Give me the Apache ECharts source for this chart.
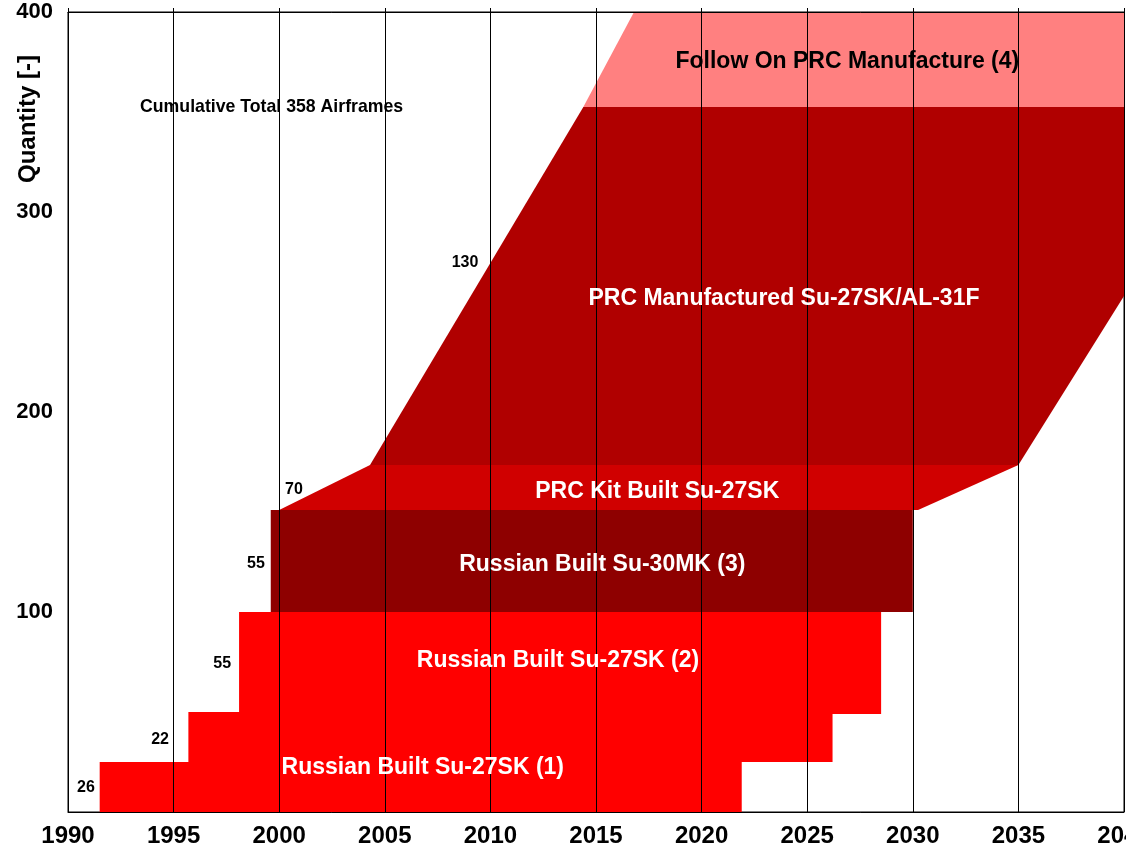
<!DOCTYPE html>
<html>
<head>
<meta charset="utf-8">
<script src="https://cdn.jsdelivr.net/npm/echarts@6/dist/echarts.min.js"></script>
<style>html,body{margin:0;padding:0;background:#fff}#c{width:1126px;height:847px}</style>
</head>
<body>
<div id="c"></div>
<script>
// Year ticks
const yearTicks = [1990, 1995, 2000, 2005, 2010, 2015, 2020, 2025, 2030, 2035, 2040];
const qtyTicks = [0, 100, 200, 300, 400];

// Region outlines as [year, cumulative quantity]
const russianSu27SK = [[1991.5,0],[1991.5,25],[1995.7,25],[1995.7,50],[1998.1,50],[1998.1,100],
  [2028.5,100],[2028.5,49],[2026.2,49],[2026.2,25],[2021.9,25],[2021.9,0]];
const russianSu30MK = [[1999.6,100],[1999.6,151],[2030,151],[2030,100]];
const prcKitSu27SK = [[2000,151],[2004.3,173.5],[2035,173.5],[2030.25,151]];
const prcManufactured = [[2004.3,173.5],[2014.4,352.5],[2040,352.5],[2040,258],[2035,173.5]];
const followOnPRC = [[2014.4,352.5],[2016.8,400],[2040,400],[2040,352.5]];

// Annotation texts and their anchor points (year, quantity)
const labelTexts = ['Follow On PRC Manufacture (4)','Cumulative Total 358 Airframes','130',
  'PRC Manufactured Su-27SK/AL-31F','70','PRC Kit Built Su-27SK','55','Russian Built Su-30MK (3)',
  '55','Russian Built Su-27SK (2)','22','Russian Built Su-27SK (1)','26'];
const labelYears = [2026.9, 1999.64, 2008.8, 2023.9, 2000.7, 2017.9, 1998.9, 2015.3, 1997.3, 2013.2, 1994.36, 2006.8, 1990.85];
const labelQty   = [375, 352.5, 274.5, 256.5, 161, 160, 124, 123.5, 74, 75.5, 36, 22, 12];

const FONT = '"Liberation Sans", Arial, Helvetica, sans-serif';
const regions = [
  {data: russianSu27SK, color: '#ff0000'},
  {data: russianSu30MK, color: '#8e0000'},
  {data: prcKitSu27SK, color: '#d00000'},
  {data: prcManufactured, color: '#b00000'},
  {data: followOnPRC, color: '#ff8080'}
];
// style per label
const labelStyle = [
  {c:'#000', s:23}, {c:'#000', s:17.7}, {c:'#000', s:16},
  {c:'#fff', s:23}, {c:'#000', s:16}, {c:'#fff', s:23}, {c:'#000', s:16}, {c:'#fff', s:23},
  {c:'#000', s:16}, {c:'#fff', s:23}, {c:'#000', s:16}, {c:'#fff', s:23}, {c:'#000', s:16}
];

const chart = echarts.init(document.getElementById('c'), null, {renderer: 'canvas'});

const series = regions.map(r => ({
  type: 'custom',
  clip: true,
  z: 2,
  data: [[r.data[0][0], r.data[0][1]]],
  renderItem: function (params, api) {
    return {
      type: 'polygon',
      shape: {points: r.data.map(p => api.coord(p))},
      style: {fill: r.color, stroke: null}
    };
  },
  silent: true
}));

series.push({
  type: 'custom',
  z: 5,
  data: labelTexts.map((t, i) => [labelYears[i], labelQty[i], i]),
  renderItem: function (params, api) {
    const i = params.dataIndex;
    const pt = api.coord([labelYears[i], labelQty[i]]);
    return {
      type: 'text',
      x: pt[0], y: pt[1],
      style: {
        text: labelTexts[i],
        fill: labelStyle[i].c,
        font: 'bold ' + labelStyle[i].s + 'px ' + FONT,
        align: 'center',
        verticalAlign: 'middle'
      }
    };
  },
  silent: true
});

chart.setOption({
  animation: false,
  backgroundColor: '#fff',
  grid: {left: 68, right: 2, top: 12, bottom: 35, containLabel: false, outerBoundsMode: 'none',
    show: true, borderColor: '#000', borderWidth: 1, backgroundColor: 'transparent'},
  xAxis: [{
    type: 'value',
    min: yearTicks[0], max: yearTicks[yearTicks.length - 1], interval: 5,
    z: 4,
    axisLine: {show: true, lineStyle: {color: '#000', width: 1}},
    axisTick: {show: false},
    splitLine: {show: true, lineStyle: {color: '#000', width: 1}},
    axisLabel: {color: '#000', fontFamily: FONT, fontWeight: 'bold', fontSize: 24, margin: 12,
      formatter: v => String(v)}
  }, {
    type: 'value', position: 'top',
    min: yearTicks[0], max: yearTicks[yearTicks.length - 1], interval: 5,
    z: 4,
    axisLine: {show: true, lineStyle: {color: '#000'}},
    axisTick: {show: true, inside: false, length: 4, lineStyle: {color: '#000'}},
    splitLine: {show: false},
    axisLabel: {show: false}
  }],
  yAxis: {
    type: 'value',
    min: qtyTicks[0], max: qtyTicks[qtyTicks.length - 1], interval: 100,
    z: 4,
    axisLine: {show: true, lineStyle: {color: '#000'}},
    axisTick: {show: false},
    splitLine: {show: false},
    axisLabel: {color: '#000', fontFamily: FONT, fontWeight: 'bold', fontSize: 22, margin: 15,
      formatter: v => (v === 0 ? '' : String(v))}
  },
  graphic: [{
    type: 'text',
    x: 28.5, y: 119,
    rotation: Math.PI / 2,
    style: {text: 'Quantity [-]', fill: '#000', font: 'bold 24px ' + FONT, align: 'center', verticalAlign: 'middle'}
  }],
  series: series
});
</script>
</body>
</html>
